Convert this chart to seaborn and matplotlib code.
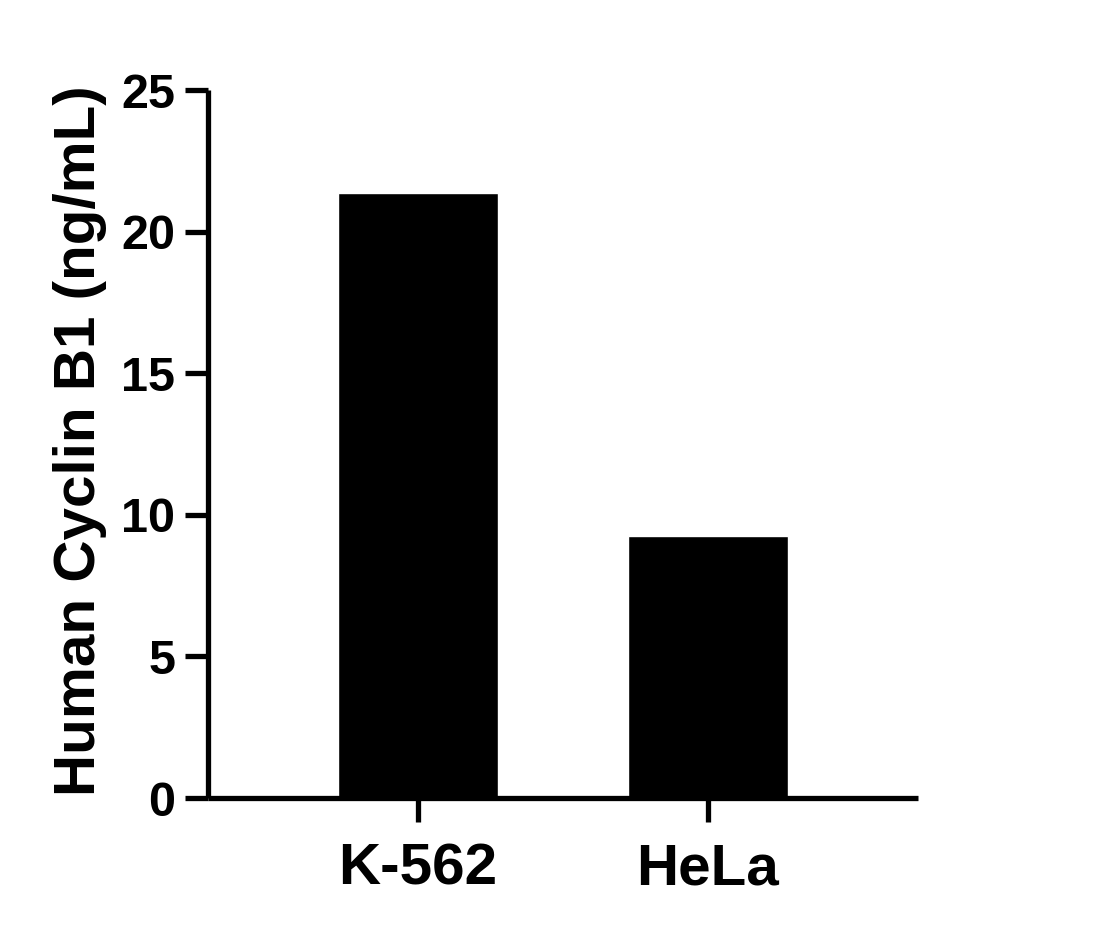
import matplotlib
matplotlib.use("Agg")
import matplotlib.pyplot as plt
import seaborn as sns
import pandas as pd

# datos del grafico
cell_lines = ["K-562", "HeLa"]
cyclin_values = [21.35, 9.25]
y_ticks = [0, 5, 10, 15, 20, 25]

df = pd.DataFrame({"line": cell_lines, "value": cyclin_values})

sns.set_style("ticks")
plt.rcParams["font.family"] = ["Liberation Sans", "DejaVu Sans"]
plt.rcParams["font.weight"] = "bold"

fig = plt.figure(figsize=(10.98, 9.34), dpi=100)
ax = fig.add_axes([0.1894, 0.1456, 0.6466, 0.758])

sns.barplot(data=df, x="line", y="value", color="black", width=0.55,
            saturation=1, ax=ax)

ax.set_xlim(-0.724, 1.724)
ax.set_ylim(0, 25)
ax.set_yticks(y_ticks)
ax.set_xlabel("")
ax.set_ylabel("Human Cyclin B1 (ng/mL)", fontsize=42, fontweight="bold", color="black")
ax.yaxis.set_label_coords(-0.142, 0.505)

sns.despine(ax=ax)
for side in ["left", "bottom"]:
    ax.spines[side].set_linewidth(3.8)
    ax.spines[side].set_color("black")
    ax.spines[side].set_capstyle("butt")

ax.tick_params(axis="y", length=16.5, width=3.8, pad=7, labelsize=35, colors="black")
ax.tick_params(axis="x", length=17, width=3.8, pad=15, labelsize=42, colors="black")
for lbl in ax.get_xticklabels() + ax.get_yticklabels():
    lbl.set_fontweight("bold")

fig.savefig("out.png", dpi=100)
